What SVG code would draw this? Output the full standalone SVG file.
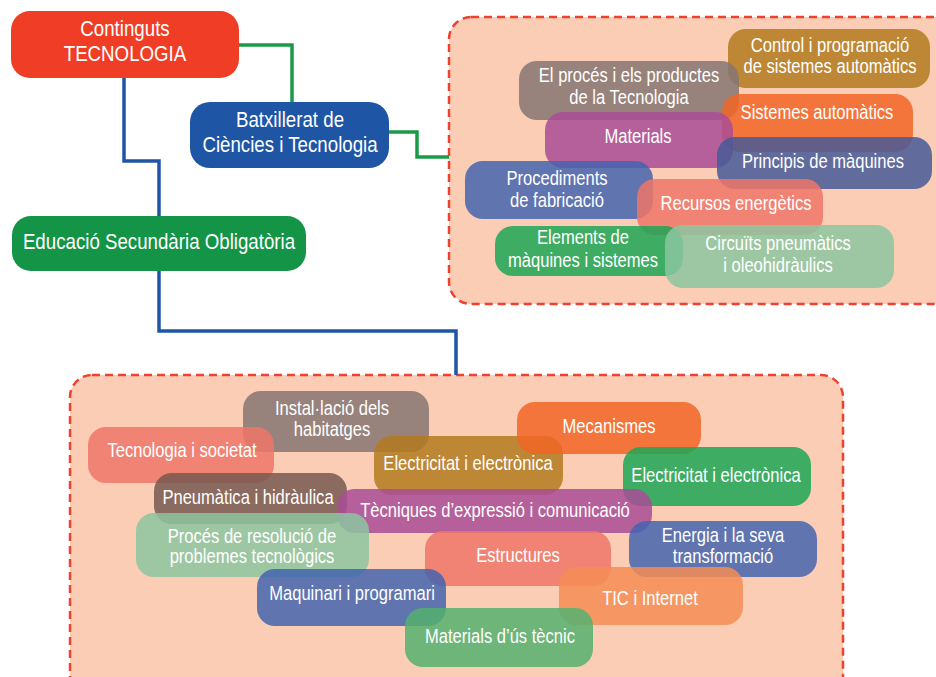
<svg xmlns="http://www.w3.org/2000/svg" width="936" height="677" viewBox="0 0 936 677">
<style>
text{font-family:"Liberation Sans",Arial,sans-serif;fill:#fff;text-anchor:middle}
.m{font-size:22px}
.s{font-size:19.5px}
.area{fill:#FBCDB5;stroke:#EF4130;stroke-width:2.5;stroke-dasharray:8 5}
.c{fill:none;stroke-width:3.5}
.n{fill-opacity:0.85}
</style>
<rect width="936" height="677" fill="#fff"/>
<rect class="area" x="449" y="17" width="510" height="287" rx="22"/>
<rect class="area" x="70" y="375" width="773" height="330" rx="22"/>
<g id="connectors">
<polyline class="c" stroke="#1A9B48" points="239,45 292,45 292,102"/>
<polyline class="c" stroke="#1A9B48" points="389,132 417,132 417,157 449,157"/>
<polyline class="c" stroke="#1F55A5" points="124,78 124,161 159,161 159,216"/>
<polyline class="c" stroke="#1F55A5" points="159,271 159,331 456,331 456,375"/>
</g>
<g id="root"><rect x="11" y="11" width="228" height="67" rx="19" fill="#EF3E25"/><g transform="translate(125,0) scale(0.85,1)"><text class="m" x="0" y="36">Continguts</text><text class="m" x="0" y="61">TECNOLOGIA</text></g></g>
<g id="batx"><rect x="190" y="102" width="199" height="66" rx="20" fill="#1F55A5"/><g transform="translate(290,0) scale(0.85,1)"><text class="m" x="0" y="127">Batxillerat de</text><text class="m" x="0" y="152">Ciències i Tecnologia</text></g></g>
<g id="eso"><rect x="12" y="216" width="294" height="55" rx="19" fill="#149447"/><g transform="translate(159,0) scale(0.85,1)"><text class="m" x="0" y="249">Educació Secundària Obligatòria</text></g></g>

<g id="b1"><rect class="n" x="728" y="29" width="202" height="59" rx="18" fill="#B27A20"/><g transform="translate(830,0) scale(0.85,1)"><text class="s" x="0" y="52">Control i programació</text><text class="s" x="0" y="73">de sistemes automàtics</text></g></g>
<g id="b2"><rect class="n" x="519" y="61" width="220" height="59" rx="18" fill="#857572"/><g transform="translate(629,0) scale(0.85,1)"><text class="s" x="0" y="82">El procés i els productes</text><text class="s" x="0" y="104">de la Tecnologia</text></g></g>
<g id="b3"><rect class="n" x="722" y="94" width="191" height="58" rx="18" fill="#F26526"/><g transform="translate(817,0) scale(0.85,1)"><text class="s" x="0" y="119">Sistemes automàtics</text></g></g>
<g id="b4"><rect class="n" x="545" y="112" width="188" height="56" rx="18" fill="#A94C96"/><g transform="translate(638,0) scale(0.85,1)"><text class="s" x="0" y="143">Materials</text></g></g>
<g id="b5"><rect class="n" x="717" y="137" width="215" height="52" rx="18" fill="#465A98"/><g transform="translate(823,0) scale(0.85,1)"><text class="s" x="0" y="168">Principis de màquines</text></g></g>
<g id="b6"><rect class="n" x="465" y="161" width="188" height="58" rx="18" fill="#4464AF"/><g transform="translate(557,0) scale(0.85,1)"><text class="s" x="0" y="185">Procediments</text><text class="s" x="0" y="207">de fabricació</text></g></g>
<g id="b7"><rect class="n" x="637" y="179" width="186" height="56" rx="18" fill="#EE7668"/><g transform="translate(736,0) scale(0.85,1)"><text class="s" x="0" y="210">Recursos energètics</text></g></g>
<g id="b8"><rect class="n" x="495" y="226" width="188" height="50" rx="18" fill="#1DA656"/><g transform="translate(583,0) scale(0.85,1)"><text class="s" x="0" y="244">Elements de</text><text class="s" x="0" y="267">màquines i sistemes</text></g></g>
<g id="b9"><rect class="n" x="665" y="225" width="229" height="63" rx="18" fill="#8CC6A0"/><g transform="translate(778,0) scale(0.85,1)"><text class="s" x="0" y="250">Circuïts pneumàtics</text><text class="s" x="0" y="272">i oleohidràulics</text></g></g>

<g id="e1"><rect class="n" x="243" y="391" width="186" height="61" rx="18" fill="#857572"/><g transform="translate(332,0) scale(0.85,1)"><text class="s" x="0" y="415">Instal·lació dels</text><text class="s" x="0" y="436">habitatges</text></g></g>
<g id="e2"><rect class="n" x="88" y="427" width="186" height="56" rx="18" fill="#EE7668"/><g transform="translate(182,0) scale(0.85,1)"><text class="s" x="0" y="457">Tecnologia i societat</text></g></g>
<g id="e3"><rect class="n" x="374" y="436" width="189" height="59" rx="18" fill="#B27A20"/><g transform="translate(468,0) scale(0.85,1)"><text class="s" x="0" y="470">Electricitat i electrònica</text></g></g>
<g id="e4"><rect class="n" x="517" y="402" width="184" height="52" rx="18" fill="#F26526"/><g transform="translate(609,0) scale(0.85,1)"><text class="s" x="0" y="433">Mecanismes</text></g></g>
<g id="e5"><rect class="n" x="623" y="447" width="188" height="59" rx="18" fill="#1DA656"/><g transform="translate(716,0) scale(0.85,1)"><text class="s" x="0" y="482">Electricitat i electrònica</text></g></g>
<g id="e6"><rect class="n" x="154" y="473" width="193" height="51" rx="18" fill="#775850"/><g transform="translate(248,0) scale(0.85,1)"><text class="s" x="0" y="504">Pneumàtica i hidràulica</text></g></g>
<g id="e7"><rect class="n" x="337" y="489" width="315" height="44" rx="18" fill="#A94C96"/><g transform="translate(495,0) scale(0.85,1)"><text class="s" x="0" y="517">Tècniques d’expressió i comunicació</text></g></g>
<g id="e8"><rect class="n" x="136" y="513" width="233" height="64" rx="18" fill="#8CC6A0"/><g transform="translate(252,0) scale(0.85,1)"><text class="s" x="0" y="543">Procés de resolució de</text><text class="s" x="0" y="563">problemes tecnològics</text></g></g>
<g id="e9"><rect class="n" x="425" y="531" width="186" height="55" rx="18" fill="#EE7668"/><g transform="translate(518,0) scale(0.85,1)"><text class="s" x="0" y="562">Estructures</text></g></g>
<g id="e10"><rect class="n" x="629" y="521" width="188" height="56" rx="18" fill="#4464AF"/><g transform="translate(723,0) scale(0.85,1)"><text class="s" x="0" y="542">Energia i la seva</text><text class="s" x="0" y="563">transformació</text></g></g>
<g id="e11"><rect class="n" x="257" y="569" width="189" height="57" rx="18" fill="#4464AF"/><g transform="translate(352,0) scale(0.85,1)"><text class="s" x="0" y="600">Maquinari i programari</text></g></g>
<g id="e12"><rect class="n" x="559" y="567" width="184" height="58" rx="18" fill="#F58D55"/><g transform="translate(650,0) scale(0.85,1)"><text class="s" x="0" y="605">TIC i Internet</text></g></g>
<g id="e13"><rect class="n" x="405" y="608" width="188" height="59" rx="18" fill="#55B06E"/><g transform="translate(500,0) scale(0.85,1)"><text class="s" x="0" y="643">Materials d’ús tècnic</text></g></g>
</svg>
